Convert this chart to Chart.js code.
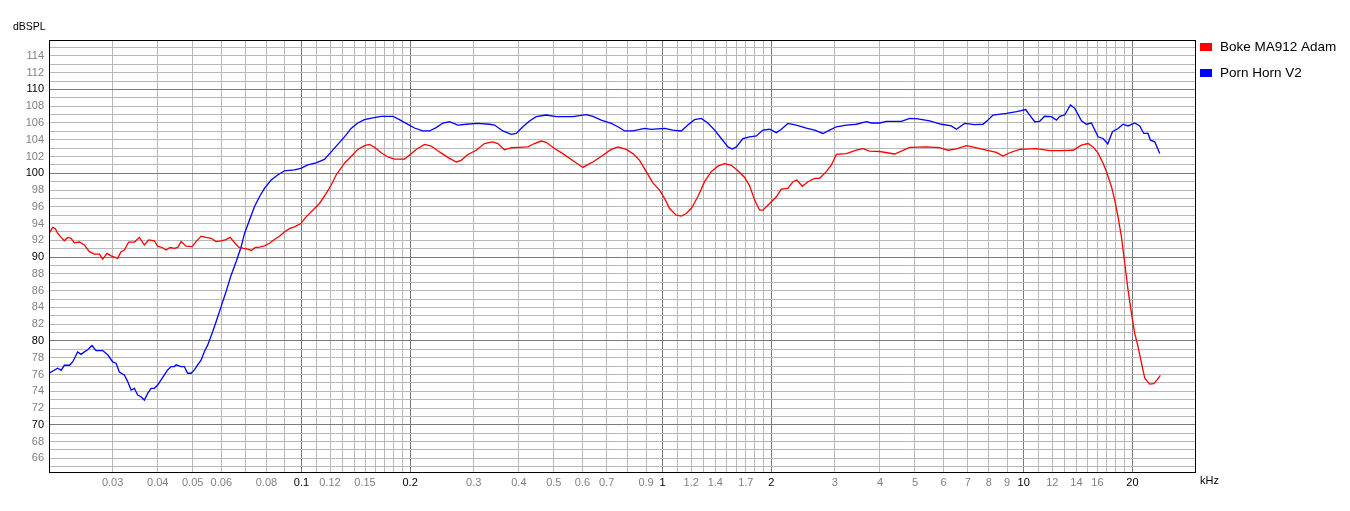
<!DOCTYPE html>
<html><head><meta charset="utf-8">
<script src="https://cdn.jsdelivr.net/npm/chart.js@4.4.0/dist/chart.umd.min.js"></script>
<style>html,body{margin:0;padding:0;background:#fff;}canvas{display:block;}</style>
</head><body>
<div style="width:1350px;height:511px;position:relative"><canvas id="c" width="1350" height="511"></canvas></div>
<script>
// ---- data (frequency in kHz, level in dB SPL) ----
const redName = 'Boke MA912 Adam';
const blueName = 'Porn Horn V2';

const redFreq = [0.0200,0.02047,0.02083,0.02114,0.0216,0.02206,0.02253,0.02302,0.02351,0.02428,0.02506,0.02587,0.02671,0.02758,0.02816,0.02897,0.02971,0.03034,0.03099,0.03166,0.03234,0.03324,0.03447,0.03559,0.03674,0.03776,0.03915,0.03999,0.04113,0.04219,0.04328,0.04449,0.04544,0.04643,0.04793,0.0498,0.05109,0.05275,0.05446,0.05621,0.05804,0.05992,0.06187,0.06346,0.06524,0.06705,0.06909,0.07101,0.07257,0.07458,0.07652,0.079,0.08156,0.08419,0.08692,0.08973,0.09263,0.09564,0.0996,
0.103,0.1075,0.1122,0.1171,0.1209,0.1248,0.1316,0.1373,0.1432,0.1495,0.1543,0.1594,0.1663,0.1735,0.181,0.1929,0.1991,0.2079,0.2192,0.2288,0.2412,0.2543,0.2683,0.277,0.2889,0.3047,0.3213,0.3388,0.3498,0.3651,0.381,0.4017,0.4235,0.4421,0.4613,0.4762,0.5022,0.5295,0.5586,0.5826,0.6015,0.6278,0.6411,0.6834,0.721,0.7521,0.7935,0.8276,0.8637,0.9013,0.9401,0.9812,
1.013,1.046,1.091,1.127,1.163,1.201,1.252,1.307,1.364,1.423,1.485,1.55,1.617,1.688,1.742,1.799,1.856,1.896,1.979,2.066,2.133,2.224,2.297,2.355,2.438,2.527,2.637,2.722,2.842,2.934,3.028,3.227,3.44,3.588,3.745,3.991,4.392,4.833,5.376,5.852,6.171,6.511,6.94,7.317,7.885,8.403,8.764,9.147,9.746,
10.84,11.81,12.58,13.7,14.45,15.07,15.56,16.07,16.59,16.95,17.5,17.87,18.25,18.65,19.04,19.45,19.88,20.3,20.74,21.19,21.64,22.34,22.92,23.4,23.91];
const redDb = [92.8,93.55,93.4,92.85,92.35,91.95,92.35,92.25,91.7,91.8,91.45,90.65,90.35,90.35,89.75,90.45,90.15,90.0,89.85,90.65,90.85,91.8,91.8,92.35,91.45,92.05,91.95,91.3,91.15,90.85,91.15,91.05,91.15,91.85,91.3,91.25,91.85,92.5,92.35,92.25,91.85,91.95,92.1,92.35,91.75,91.2,91.05,90.95,90.8,91.15,91.2,91.35,91.65,92.1,92.5,93.0,93.4,93.6,94.0,
94.8,95.6,96.4,97.6,98.6,99.8,101.2,102.0,102.85,103.3,103.45,103.1,102.45,101.95,101.7,101.7,102.15,102.85,103.45,103.25,102.55,101.9,101.35,101.55,102.25,102.75,103.55,103.75,103.55,102.8,103.05,103.1,103.15,103.55,103.85,103.7,102.95,102.35,101.65,101.1,100.7,101.15,101.35,102.15,102.85,103.15,102.85,102.35,101.55,100.2,98.85,98.0,
97.0,95.8,95.0,94.9,95.2,95.8,97.2,99.0,100.2,100.85,101.15,100.95,100.3,99.5,98.5,96.8,95.6,95.6,96.4,97.2,98.1,98.2,99.0,99.2,98.45,99.0,99.4,99.4,100.2,101.0,102.25,102.35,102.75,102.95,102.65,102.6,102.3,103.1,103.15,103.05,102.75,102.9,103.3,103.1,102.75,102.5,102.05,102.45,102.85,
102.95,102.7,102.7,102.75,103.35,103.55,103.15,102.4,101.2,100.2,98.4,96.8,94.8,92.4,89.3,86.1,83.3,80.9,79.3,77.35,75.55,74.85,74.9,75.35,75.9];

const blueFreq = [0.0200,0.02114,0.0216,0.02206,0.02278,0.02326,0.02401,0.02454,0.02506,0.02559,0.02631,0.027,0.02816,0.02908,0.03002,0.03067,0.03132,0.03234,0.03303,0.03375,0.03447,0.0352,0.03597,0.03674,0.03752,0.03834,0.03915,0.03999,0.04086,0.04174,0.04262,0.04356,0.04449,0.04497,0.04643,0.04741,0.04842,0.04948,0.05054,0.0516,0.05275,0.05387,0.055,0.05678,0.05804,0.05992,0.06187,0.06387,0.06595,0.06807,0.06953,0.07178,0.07411,0.07652,0.079,0.08244,0.08599,0.08973,0.09564,0.0996,
0.1041,0.1098,0.1158,0.1209,0.1261,0.1316,0.1373,0.1432,0.1495,0.1576,0.1663,0.1791,0.1868,0.195,0.2056,0.2168,0.2263,0.2361,0.2464,0.2571,0.2711,0.286,0.3079,0.3318,0.3425,0.3611,0.381,0.3933,0.4102,0.4282,0.4469,0.4762,0.5076,0.5643,0.6015,0.6147,0.6411,0.6765,0.721,0.7521,0.7849,0.8276,0.8916,0.9304,
1.013,1.068,1.127,1.175,1.226,1.28,1.335,1.394,1.454,1.517,1.56,1.601,1.669,1.742,1.818,1.896,1.979,2.066,2.133,2.224,2.346,2.501,2.637,2.78,2.902,3.028,3.227,3.44,3.667,3.786,3.991,4.166,4.585,4.833,5.096,5.49,5.916,6.306,6.511,6.865,7.317,7.715,7.965,8.223,8.954,9.564,
10.13,10.39,10.73,11.07,11.43,11.93,12.32,12.58,12.99,13.47,13.85,14.45,14.91,15.4,16.07,16.59,17.09,17.61,18.25,18.84,19.45,20.3,20.96,21.5,22.1,22.44,23.06,23.81];
const blueDb = [76.15,76.75,76.5,77.1,77.1,77.5,78.7,78.4,78.7,78.95,79.45,78.85,78.85,78.35,77.5,77.35,76.3,75.95,75.15,74.15,74.35,73.55,73.35,72.95,73.75,74.35,74.35,74.75,75.35,75.95,76.55,76.95,76.95,77.15,76.95,76.95,76.15,76.15,76.55,77.15,77.7,78.75,79.5,81.1,82.3,84.1,85.9,87.85,89.45,91.2,92.8,94.4,96.0,97.2,98.2,99.2,99.8,100.3,100.4,100.6,
101.0,101.25,101.65,102.55,103.45,104.35,105.35,106.0,106.4,106.6,106.8,106.8,106.4,105.95,105.4,105.05,105.05,105.45,106.0,106.15,105.75,105.85,105.95,105.85,105.75,105.05,104.65,104.75,105.55,106.25,106.75,106.95,106.75,106.75,106.95,107.0,106.8,106.35,105.95,105.55,105.05,105.05,105.35,105.25,
105.35,105.15,105.05,105.75,106.4,106.55,106.0,105.15,104.15,103.15,102.9,103.15,104.15,104.35,104.45,105.15,105.25,104.85,105.25,105.95,105.75,105.4,105.15,104.75,105.15,105.55,105.75,105.85,106.15,106.0,106.0,106.2,106.2,106.55,106.5,106.25,105.85,105.65,105.25,105.95,105.8,105.85,106.35,106.95,107.15,107.35,
107.6,106.95,106.15,106.2,106.8,106.75,106.35,106.8,106.95,108.15,107.75,106.25,105.85,106.0,104.35,104.15,103.5,104.95,105.35,105.85,105.65,106.0,105.65,104.75,104.75,103.95,103.75,102.35];

// ---- axes ----
const xGrid = [0.03,0.04,0.05,0.06,0.07,0.08,0.09,0.1,0.11,0.12,0.13,0.14,0.15,0.16,0.17,0.18,0.19,0.2,0.3,0.4,0.5,0.6,0.7,0.8,0.9,1,1.1,1.2,1.3,1.4,1.5,1.6,1.7,1.8,1.9,2,3,4,5,6,7,8,9,10,11,12,13,14,15,16,17,18,19,20];
const xMajor = [0.1,0.2,1,2,10,20];
const xTickLabels = [0.03,0.04,0.05,0.06,0.08,0.1,0.12,0.15,0.2,0.3,0.4,0.5,0.6,0.7,0.9,1,1.2,1.4,1.7,2,3,4,5,6,7,8,9,10,12,14,16,20];
const yGrid = [65,66,67,68,69,70,71,72,73,74,75,76,77,78,79,80,81,82,83,84,85,86,87,88,89,90,91,92,93,94,95,96,97,98,99,100,101,102,103,104,105,106,107,108,109,110,111,112,113,114,115];
const yTickLabels = [66,68,70,72,74,76,78,80,82,84,86,88,90,92,94,96,98,100,102,104,106,108,110,112,114];
const yMajor = [70,80,90,100,110];

const near = (a, arr) => arr.some(v => Math.abs(v - a) < 1e-6 * Math.max(1, v));
const FONT = 'Liberation Sans, Arial, sans-serif';

const framePlugin = {
  id: 'frame',
  afterDraw(chart) {
    const c = chart.ctx, a = chart.chartArea;
    c.save();
    c.strokeStyle = '#000'; c.lineWidth = 1;
    c.strokeRect(Math.round(a.left) + 0.5, Math.round(a.top) + 0.5, Math.round(a.right - a.left) - 1, Math.round(a.bottom - a.top) - 1);
    c.fillStyle = '#000';
    c.textBaseline = 'middle'; c.textAlign = 'left';
    c.font = '10.5px ' + FONT;
    c.fillText('dBSPL', 13, 27);
    c.font = '11px ' + FONT;
    c.fillText('kHz', 1200, 481);
    c.font = '13.5px ' + FONT;
    c.fillStyle = '#ff0000'; c.fillRect(1200, 43, 12, 8);
    c.fillStyle = '#0000ff'; c.fillRect(1200, 69, 12, 8);
    c.fillStyle = '#000';
    c.fillText(redName, 1220, 47);
    c.fillText(blueName, 1220, 73);
    c.restore();
  }
};

new Chart(document.getElementById('c'), {
  type: 'line',
  data: {
    datasets: [
      { label: redName, data: redFreq.map((f, i) => ({ x: f, y: redDb[i] })), borderColor: '#ff0000', borderWidth: 1.3, pointRadius: 0, fill: false, tension: 0 },
      { label: blueName, data: blueFreq.map((f, i) => ({ x: f, y: blueDb[i] })), borderColor: '#0000ff', borderWidth: 1.3, pointRadius: 0, fill: false, tension: 0 }
    ]
  },
  options: {
    responsive: false, animation: false, devicePixelRatio: 1,
    layout: { padding: { left: 0, top: 40, right: 154, bottom: 0 } },
    plugins: { legend: { display: false }, tooltip: { enabled: false } },
    scales: {
      x: {
        type: 'logarithmic', min: 0.02, max: 30,
        afterBuildTicks: s => { s.ticks = xGrid.map(v => ({ value: v })); },
        afterFit: s => { s.height = 38; },
        grid: { drawTicks: false, lineWidth: 1, color: ctx => near(ctx.tick.value, xMajor) ? '#7a7a7a' : '#b8b8b8' },
        border: { display: false },
        ticks: {
          autoSkip: false, maxRotation: 0, minRotation: 0, padding: 3,
          font: { family: FONT, size: 11 },
          color: ctx => near(ctx.tick.value, xMajor) ? '#000' : '#808080',
          callback: v => near(v, xTickLabels) ? String(xTickLabels.find(t => Math.abs(t - v) < 1e-6 * Math.max(1, t))) : ''
        }
      },
      y: {
        type: 'linear', min: 64.25, max: 115.9,
        afterBuildTicks: s => { s.ticks = yGrid.map(v => ({ value: v })); },
        afterFit: s => { s.width = 49; },
        grid: { drawTicks: false, lineWidth: 1, color: ctx => near(ctx.tick.value, yMajor) ? '#7a7a7a' : '#b8b8b8' },
        border: { display: false },
        ticks: {
          autoSkip: false, padding: 5,
          font: { family: FONT, size: 11 },
          color: ctx => near(ctx.tick.value, yMajor) ? '#000' : '#808080',
          callback: v => near(v, yTickLabels) ? String(v) : ''
        }
      }
    }
  },
  plugins: [framePlugin]
});
</script>
</body></html>
